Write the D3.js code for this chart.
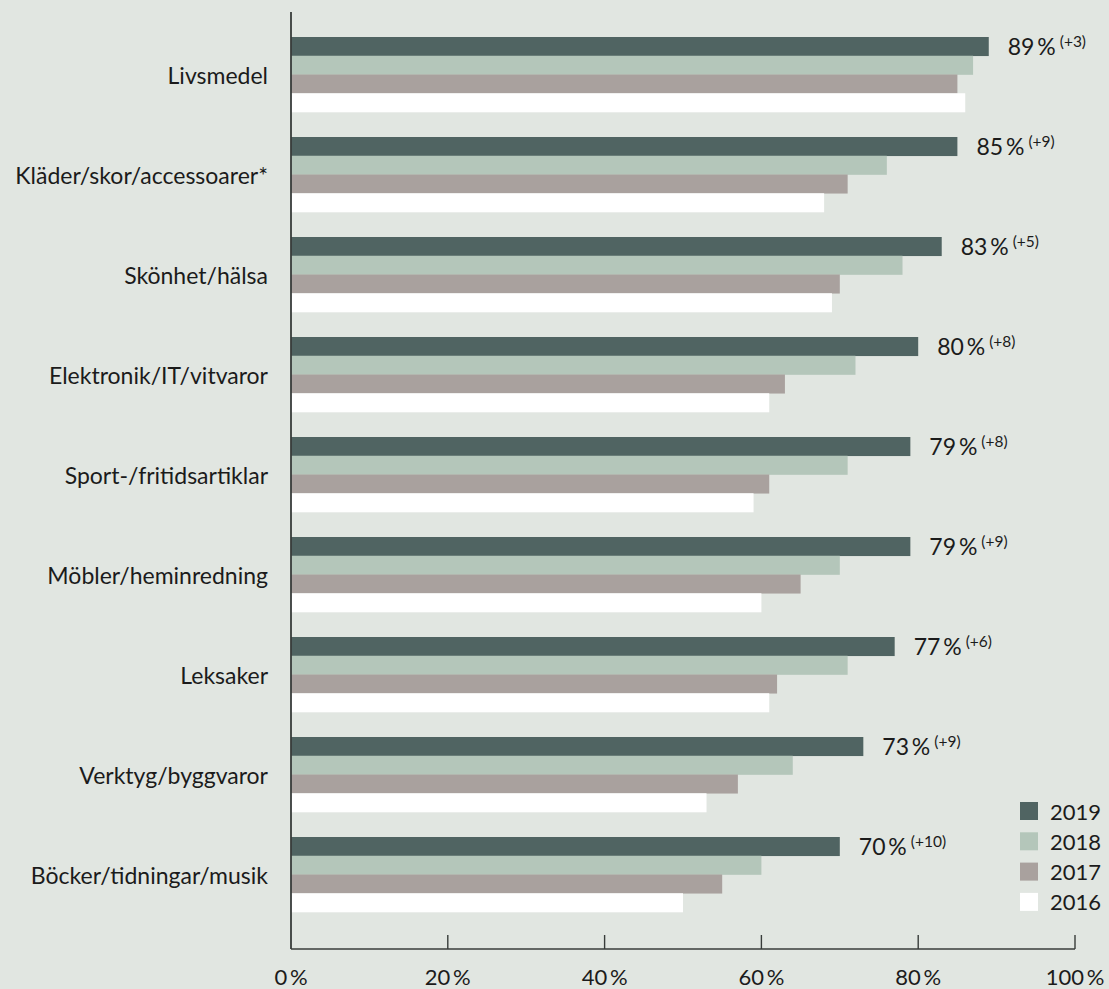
<!DOCTYPE html>
<html lang="sv">
<head>
<meta charset="utf-8">
<script src="https://cdn.jsdelivr.net/npm/d3@7"></script>
<style>
  html, body { margin: 0; padding: 0; background: #e1e6e1; }
  svg { display: block; }
  text { font-family: Lato, "Noto Sans", sans-serif; fill: #1b1b1b; }
</style>
</head>
<body>
<svg id="chart" width="1109" height="989"></svg>
<script>
// Andel som handlat varje kategori på nätet, per år
const categories = [
  "Livsmedel",
  "Kläder/skor/accessoarer*",
  "Skönhet/hälsa",
  "Elektronik/IT/vitvaror",
  "Sport-/fritidsartiklar",
  "Möbler/heminredning",
  "Leksaker",
  "Verktyg/byggvaror",
  "Böcker/tidningar/musik"
];
const years = ["2019", "2018", "2017", "2016"];
const values2019 = [89, 85, 83, 80, 79, 79, 77, 73, 70];
const values2018 = [87, 76, 78, 72, 71, 70, 71, 64, 60];
const values2017 = [85, 71, 70, 63, 61, 65, 62, 57, 55];
const values2016 = [86, 68, 69, 61, 59, 60, 61, 53, 50];
// Förändring i procentenheter mot föregående år
const changes = ["+3", "+9", "+5", "+8", "+8", "+9", "+6", "+9", "+10"];
const tickValues = [0, 20, 40, 60, 80, 100];
const yearColors = ["#506462", "#b4c6ba", "#a9a19e", "#ffffff"];

const seriesByYear = [values2019, values2018, values2017, values2016];
const rows = categories.map((c, i) => ({
  category: c,
  values: years.map((y, k) => ({ year: y, value: seriesByYear[k][i] })),
  change: changes[i]
}));

const svg = d3.select("#chart");
const axisY = 949;
const axisTop = 12;

const x = d3.scaleLinear().domain([0, 100]).range([291, 1075]);
const y = d3.scaleBand().domain(categories).range([37, 912]).paddingInner(0.25).paddingOuter(0);
const ySub = d3.scaleBand().domain(years).range([0, y.bandwidth()]);
const color = d3.scaleOrdinal().domain(years).range(yearColors);

// Bars
const groups = svg.append("g").selectAll("g")
  .data(rows).join("g")
  .attr("transform", d => `translate(0,${y(d.category)})`);

groups.selectAll("rect")
  .data(d => d.values).join("rect")
  .attr("x", x(0))
  .attr("y", d => ySub(d.year))
  .attr("width", d => x(d.value) - x(0))
  .attr("height", ySub.bandwidth() + 0.3)
  .attr("fill", d => color(d.year));

// Category labels
groups.append("text")
  .attr("x", 268)
  .attr("y", y.bandwidth() / 2)
  .attr("dy", "0.4em")
  .attr("text-anchor", "end")
  .attr("font-size", 23)
  .text(d => d.category);

// Value labels for 2019 with change
const vl = groups.append("text")
  .attr("x", d => x(d.values[0].value) + 19)
  .attr("y", ySub("2019") + ySub.bandwidth() - 0.5)
  .attr("font-size", 23);
vl.append("tspan").text(d => d.values[0].value + "\u2009%");
vl.append("tspan")
  .attr("dx", 4)
  .attr("dy", -8)
  .attr("font-size", 15.5)
  .text(d => `(${d.change})`);

// Axes
const axisG = svg.append("g");
axisG.append("line")
  .attr("x1", x(0)).attr("x2", x(0))
  .attr("y1", axisTop).attr("y2", axisY)
  .attr("stroke", "#383c3a").attr("stroke-width", 1.8);
axisG.append("line")
  .attr("x1", x(0)).attr("x2", x(100))
  .attr("y1", axisY).attr("y2", axisY)
  .attr("stroke", "#383c3a").attr("stroke-width", 1.6);
axisG.selectAll("line.tick")
  .data(tickValues.filter(t => t > 0)).join("line")
  .attr("class", "tick")
  .attr("x1", d => x(d)).attr("x2", d => x(d))
  .attr("y1", axisY - 14).attr("y2", axisY)
  .attr("stroke", "#383c3a").attr("stroke-width", 1.4);
axisG.selectAll("text")
  .data(tickValues).join("text")
  .attr("x", d => x(d))
  .attr("y", 985)
  .attr("text-anchor", "middle")
  .attr("font-size", 22)
  .text(d => d + "\u2009%");

// Legend
const legend = svg.append("g").selectAll("g")
  .data(years).join("g")
  .attr("transform", (d, i) => `translate(1020,${802 + i * 30.3})`);
legend.append("rect")
  .attr("width", 18).attr("height", 18)
  .attr("fill", d => color(d));
legend.append("text")
  .attr("x", 30).attr("y", 17.5)
  .attr("font-size", 22)
  .text(d => d);
</script>
</body>
</html>
